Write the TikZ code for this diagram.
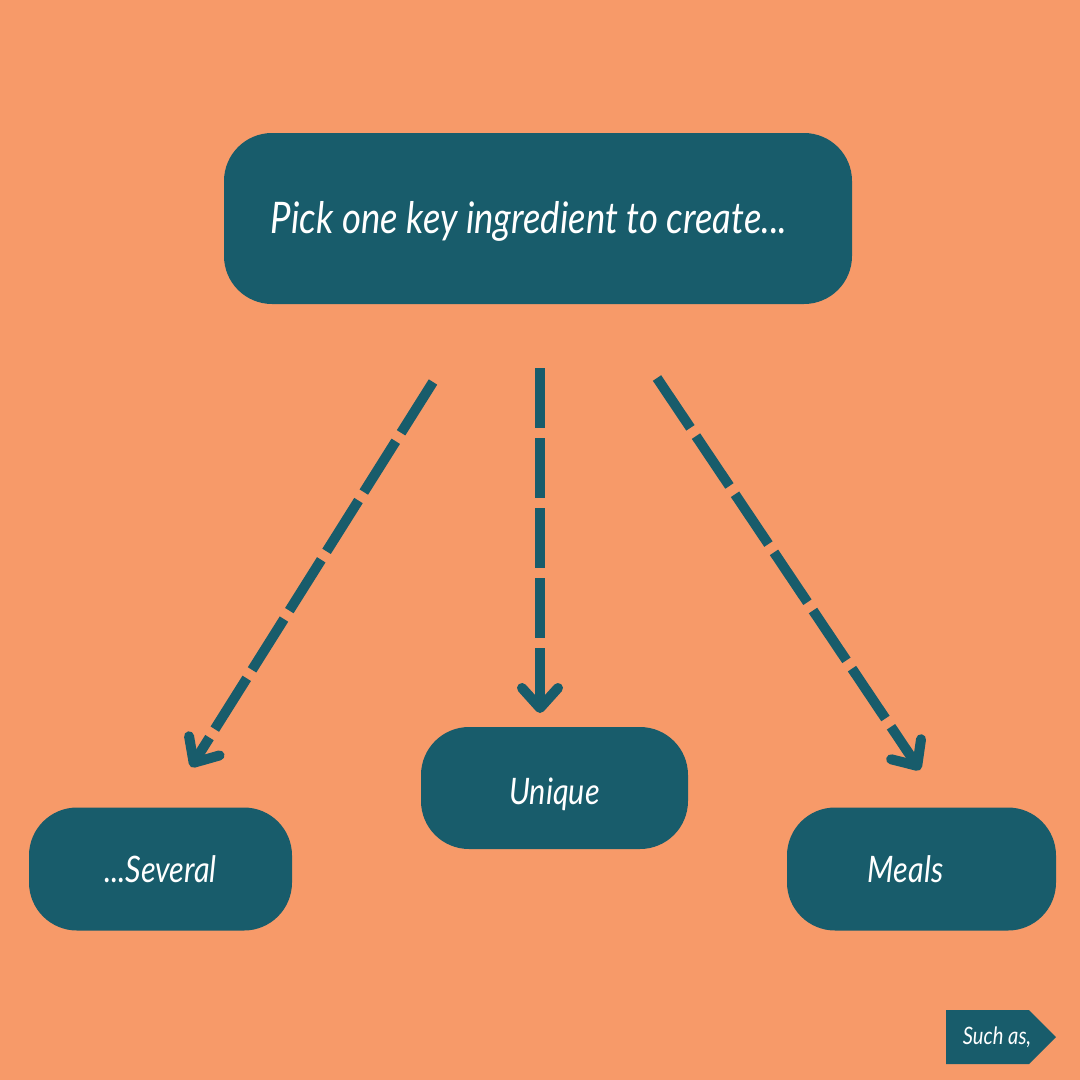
\documentclass[tikz,border=0pt]{standalone}
\usepackage{fontspec}
\setmainfont{Lato}[FakeStretch=0.84]
\usetikzlibrary{positioning,arrows.meta}
\definecolor{peach}{HTML}{F79A69}
\definecolor{deepteal}{HTML}{185C6B}

\begin{document}
\begin{tikzpicture}[x=1pt, y=-1pt,
        box/.style={fill=deepteal, rectangle, rounded corners=48pt, text=white, inner sep=0pt,
            font=\itshape\fontsize{36.5}{40}\selectfont},
        flow/.style={draw=deepteal, line width=10pt, dash pattern=on 60pt off 10pt,
            -{Straight Barb[length=20pt, width=36pt, round]}}]
        % Fundo
        \fill[peach] (0,0) rectangle (1080,1080);

        % Caixas
        \node[box, minimum width=628pt, minimum height=171pt, font=\itshape\fontsize{43.5}{48}\selectfont] (pick) at (538,218.5) {\hspace*{-18pt}\raisebox{-3pt}[\height][\depth]{Pick one key ingredient to create...}};
        \node[box, minimum width=267pt, minimum height=122pt] (unique) at (554.5,788) {\raisebox{-6pt}[\height][\depth]{Unique}};
        \node[box, minimum width=263pt, minimum height=123pt] (several) at (160.5,869) {...Several};
        \node[box, minimum width=269pt, minimum height=123pt] (meals) at (921.5,869) {\hspace*{-32pt}Meals};

        % Setas
        \coordinate (severalIn) at (433,382);
        \coordinate (severalOut) at (191,767);
        \coordinate (uniqueIn) at (540,368);
        \coordinate (uniqueOut) at (540,713);
        \coordinate (mealsIn) at (657,378);
        \coordinate (mealsOut) at (920,770);

        \draw[flow] (severalIn) -- (severalOut);
        \draw[flow] (uniqueIn) -- (uniqueOut);
        \draw[flow] (mealsIn) -- (mealsOut);

        % Etiqueta
        \fill[deepteal] (946,1010) -- (1029,1010) -- (1056,1037) -- (1029,1064) -- (946,1064) -- cycle;
        \node[text=white, font=\itshape\fontsize{24}{26}\selectfont] (such) at (997,1037) {Such as,};
    \end{tikzpicture}
\end{document}
